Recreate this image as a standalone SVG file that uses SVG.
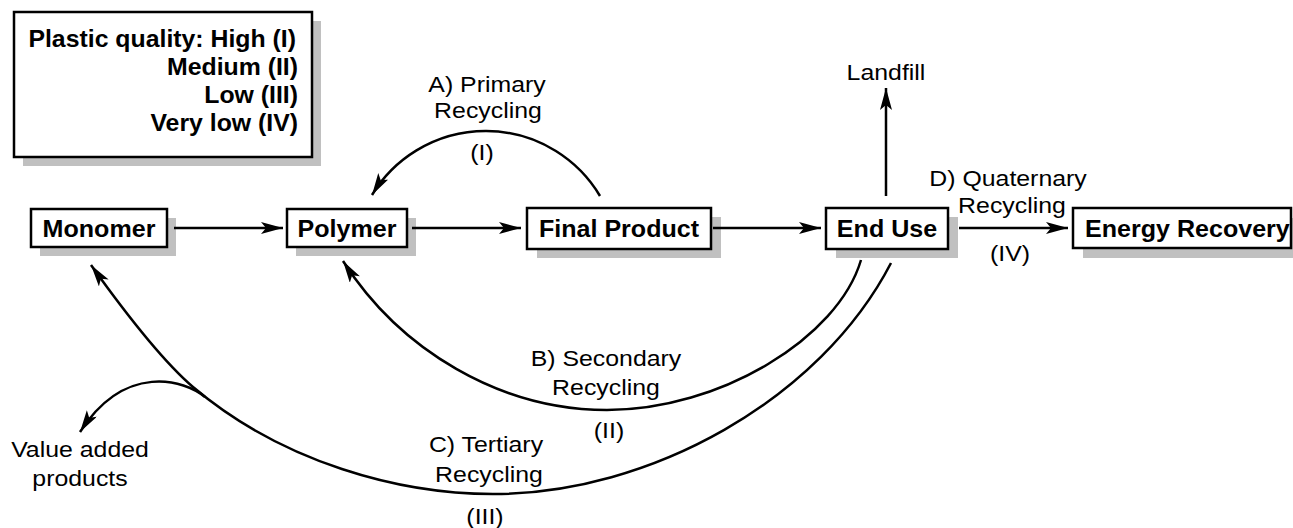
<svg xmlns="http://www.w3.org/2000/svg" width="1293" height="528" viewBox="0 0 1293 528">
<style>
.box{fill:#fff;stroke:#000;stroke-width:2.5}
.sh{fill:#c0c0c0}
.b{font-family:"Liberation Sans",Arial,sans-serif;font-weight:bold;font-size:23px;fill:#000}
.t{font-family:"Liberation Sans",Arial,sans-serif;font-size:22px;fill:#000}
.c{text-anchor:middle}
.e{text-anchor:end}
.ln{fill:none;stroke:#000;stroke-width:2.5}
</style>
<defs>
<marker id="ah" markerUnits="userSpaceOnUse" markerWidth="24" markerHeight="14" refX="22" refY="6" orient="auto">
<path d="M0,0 L22,6 L0,12 L5,6 z" fill="#000"/>
</marker>
</defs>
<rect width="1293" height="528" fill="#fff"/>
<g id="legend">
<rect class="sh" x="23" y="21" width="298" height="145"/>
<rect class="box" x="14" y="12" width="298" height="145"/>
<text class="b e" transform="translate(296,47) scale(1.08,1)">Plastic quality: High (I)</text>
<text class="b e" transform="translate(298,75) scale(1.08,1)">Medium (II)</text>
<text class="b e" transform="translate(298,103) scale(1.08,1)">Low (III)</text>
<text class="b e" transform="translate(298,131) scale(1.08,1)">Very low (IV)</text>
</g>
<g id="monomer">
<rect class="sh" x="40" y="218" width="136" height="38"/>
<rect class="box" x="31" y="209" width="136" height="38"/>
<text class="b c" transform="translate(99,237) scale(1.09,1)">Monomer</text>
</g>
<g id="polymer">
<rect class="sh" x="296" y="218" width="120" height="38"/>
<rect class="box" x="287" y="209" width="120" height="38"/>
<text class="b c" transform="translate(347,237) scale(1.09,1)">Polymer</text>
</g>
<g id="final-product">
<rect class="sh" x="537" y="217" width="184" height="41"/>
<rect class="box" x="527" y="208" width="184" height="41"/>
<text class="b c" transform="translate(619,237) scale(1.09,1)">Final Product</text>
</g>
<g id="end-use">
<rect class="sh" x="836" y="217" width="122" height="41"/>
<rect class="box" x="826" y="208" width="122" height="41"/>
<text class="b c" transform="translate(887,237) scale(1.09,1)">End Use</text>
</g>
<g id="energy-recovery">
<rect class="sh" x="1083" y="218" width="218" height="40"/>
<rect class="box" x="1073" y="208" width="218" height="40"/>
<text class="b" transform="translate(1085,237) scale(1.09,1)">Energy Recovery</text>
</g>
<g id="connectors">
<path class="ln" marker-end="url(#ah)" d="M174,228 L283,228"/>
<path class="ln" marker-end="url(#ah)" d="M412,228 L521,228"/>
<path class="ln" marker-end="url(#ah)" d="M713,228 L821,228"/>
<path class="ln" marker-end="url(#ah)" d="M959,228 L1068,228"/>
<path class="ln" marker-end="url(#ah)" d="M886,196 L886,88"/>
<path class="ln" marker-end="url(#ah)" d="M600,196 A133,133 0 0 0 372,195"/>
<path class="ln" marker-end="url(#ah)" d="M861,260 C838,338 720,410 607,410 C500,410 400,350 343,261"/>
<path class="ln" marker-end="url(#ah)" d="M891,263 C820,400 650,494 493,494 C400,494 283,463 193,387 C158,357 116,300 91,265"/>
<path class="ln" marker-end="url(#ah)" d="M205,397 C185,380 125,362 80,432"/>
</g>
<g id="labels">
<text class="t c" transform="translate(886,80) scale(1.13,1)">Landfill</text>
<text class="t c" transform="translate(487,92) scale(1.13,1)">A) Primary</text>
<text class="t c" transform="translate(488,118) scale(1.13,1)">Recycling</text>
<text class="t c" transform="translate(482,160) scale(1.13,1)">(I)</text>
<text class="t c" transform="translate(606,366) scale(1.13,1)">B) Secondary</text>
<text class="t c" transform="translate(606,395) scale(1.13,1)">Recycling</text>
<text class="t c" transform="translate(609,438) scale(1.13,1)">(II)</text>
<text class="t c" transform="translate(486,452) scale(1.13,1)">C) Tertiary</text>
<text class="t c" transform="translate(489,482) scale(1.13,1)">Recycling</text>
<text class="t c" transform="translate(485,524) scale(1.13,1)">(III)</text>
<text class="t c" transform="translate(1008,186) scale(1.13,1)">D) Quaternary</text>
<text class="t c" transform="translate(1012,213) scale(1.13,1)">Recycling</text>
<text class="t c" transform="translate(1010,261) scale(1.13,1)">(IV)</text>
<text class="t c" transform="translate(80,457) scale(1.13,1)">Value added</text>
<text class="t c" transform="translate(80,486) scale(1.13,1)">products</text>
</g>
</svg>
